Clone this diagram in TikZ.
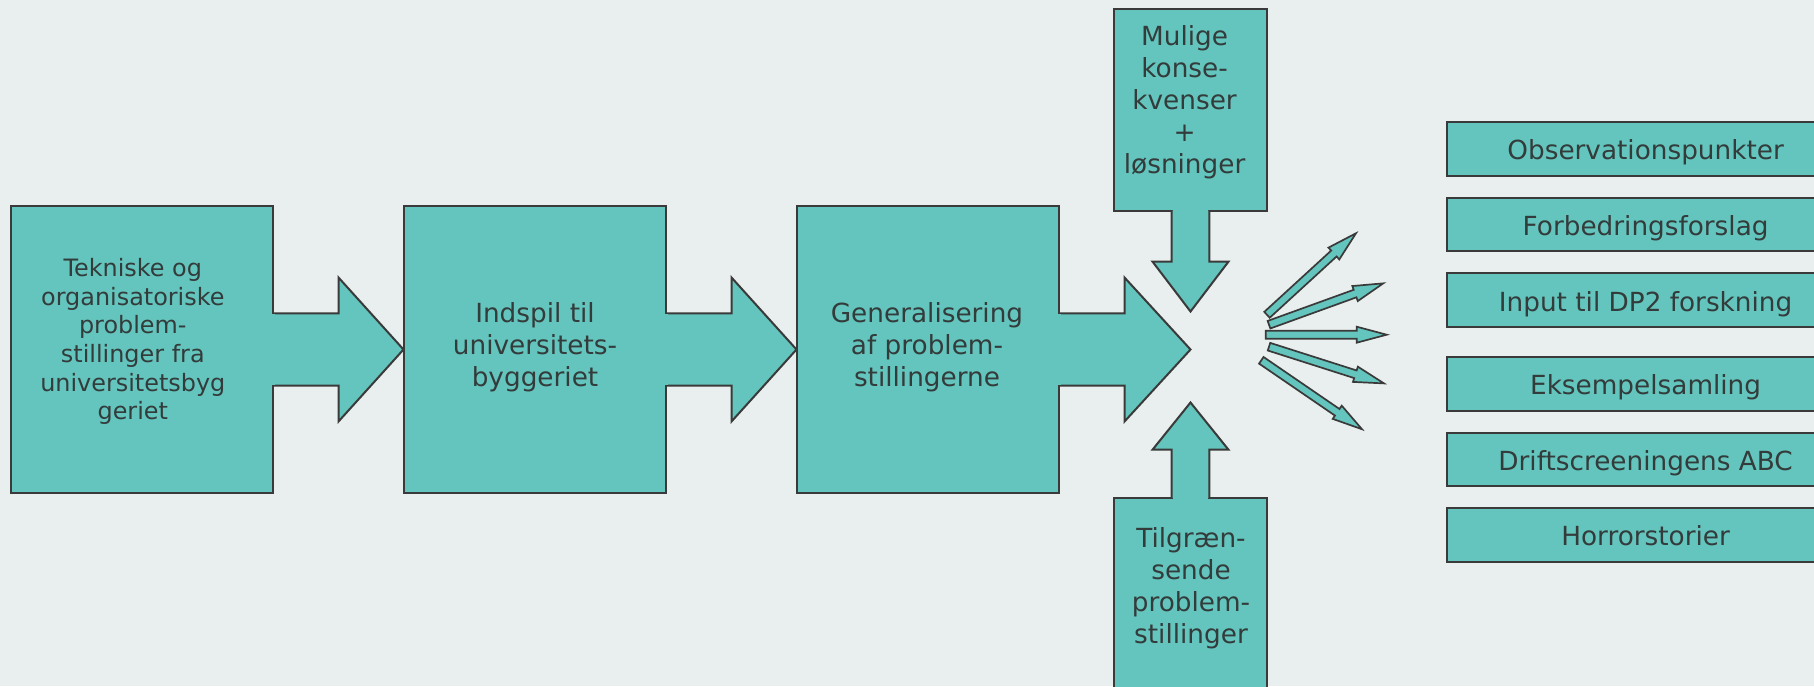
\documentclass[tikz,border=0pt]{standalone}
\usepackage{fontspec}
\setmainfont{DejaVu Sans}
\usetikzlibrary{calc}
\definecolor{bgc}{HTML}{E9EFEE}
\definecolor{tealc}{HTML}{63C5BD}
\definecolor{linec}{HTML}{3A3A3A}
\definecolor{txtc}{HTML}{333B3B}
\begin{document}
\begin{tikzpicture}[x=1pt,y=-1pt,
  shapebox/.style={draw=linec, fill=tealc, line width=2pt, rectangle, inner sep=0pt, outer sep=0pt},
  blk/.style={draw=linec, fill=tealc, line width=2pt, line join=miter},
  cover/.style={fill=tealc},
  bigtxt/.style={text=txtc, align=center, font=\fontsize{26.3}{32}\selectfont, inner sep=0pt},
  smalltxt/.style={text=txtc, align=center, font=\fontsize{23.9}{28.7}\selectfont, inner sep=0pt},
  rbox/.style={shapebox, minimum width=396.7pt, minimum height=53.7pt, text=txtc,
    font=\fontsize{26.3}{32}\selectfont, text height=26.3pt, text depth=4.2pt},
  sarrow/.style={draw=linec, fill=tealc, line width=1.7pt, line join=miter},
]
\useasboundingbox (0,0) rectangle (1814,686);
\clip (0,0) rectangle (1814,686);
\fill[bgc] (0,0) rectangle (1814,686);

% main boxes
\node[shapebox, minimum width=262.5pt, minimum height=287.6pt] (b1) at (141.75,349.5) {};
\node[shapebox, minimum width=262.5pt, minimum height=287.6pt] (b2) at (534.75,349.5) {};
\node[shapebox, minimum width=262.5pt, minimum height=287.6pt] (b3) at (927.75,349.5) {};
\node[shapebox, minimum width=152.4pt, minimum height=202.2pt] (m) at (1190.5,109.8) {};
\node[shapebox, minimum width=152.4pt, minimum height=202.2pt] (tg) at (1190.5,598.9) {};

\coordinate (cv) at (1190.5,349.5);
\coordinate (dtip) at (1190.5,311.5);
\coordinate (utip) at (1190.5,402.5);

% block arrows
\path[blk] ($(b1.east)+(0,-36.2)$) -- ++(65.5,0) -- ++(0,-35.8) -- (b2.west)
  -- ($(b1.east)+(65.5,72)$) -- ++(0,-35.8) -- ($(b1.east)+(0,36.2)$);
\fill[cover] ($(b1.east)+(-1.6,-35.2)$) rectangle ($(b1.east)+(1.6,35.2)$);

\path[blk] ($(b2.east)+(0,-36.2)$) -- ++(65.5,0) -- ++(0,-35.8) -- (b3.west)
  -- ($(b2.east)+(65.5,72)$) -- ++(0,-35.8) -- ($(b2.east)+(0,36.2)$);
\fill[cover] ($(b2.east)+(-1.6,-35.2)$) rectangle ($(b2.east)+(1.6,35.2)$);

\path[blk] ($(b3.east)+(0,-36.2)$) -- ++(65.5,0) -- ++(0,-35.8) -- (cv)
  -- ($(b3.east)+(65.5,72)$) -- ++(0,-35.8) -- ($(b3.east)+(0,36.2)$);
\fill[cover] ($(b3.east)+(-1.6,-35.2)$) rectangle ($(b3.east)+(1.6,35.2)$);

\path[blk] ($(m.south)+(-18.8,0)$) -- ++(0,50.7) -- ++(-19.2,0) -- (dtip)
  -- ($(m.south)+(38,50.7)$) -- ++(-19.2,0) -- ($(m.south)+(18.8,0)$);
\fill[cover] ($(m.south)+(-17.8,-1.6)$) rectangle ($(m.south)+(17.8,1.6)$);

\path[blk] ($(tg.north)+(-18.8,0)$) -- ++(0,-48.1) -- ++(-19.2,0) -- (utip)
  -- ($(tg.north)+(38,-48.1)$) -- ++(-19.2,0) -- ($(tg.north)+(18.8,0)$);
\fill[cover] ($(tg.north)+(-17.8,-1.6)$) rectangle ($(tg.north)+(17.8,1.6)$);

% texts
\node[smalltxt] (t1) at (132.8,341.5) {Tekniske og\\organisatoriske\\problem-\\stillinger fra\\universitetsbyg\\geriet};
\node[bigtxt] (t2) at (535,347) {Indspil til\\universitets-\\byggeriet};
\node[bigtxt] (t3) at (927,347.5) {Generalisering\\af problem-\\stillingerne};
\node[bigtxt] (tm) at (1184.6,102.2) {Mulige\\konse-\\kvenser\\+\\løsninger};
\node[bigtxt] (tt) at (1191,588.6) {Tilgræn-\\sende\\problem-\\stillinger};

% fan of small arrows
\foreach \x/\y/\a/\l in {1267/314.8/42.5/120.7, 1269/324.7/19.9/121.5, 1265.7/334.7/0/121, 1269/346.7/-17.7/120.7, 1261.3/360.3/-34.4/122}
  \path[sarrow, shift={(\x,\y)}, rotate=\a] (0,-4) -- (\l-30,-4) -- (\l-30,-8) -- (\l,0) -- (\l-30,8) -- (\l-30,4) -- (0,4) -- cycle;

% result boxes
\node[rbox] (r1) at (1645.6,148.85) {Observationspunkter};
\node[rbox] (r2) at (1645.6,224.5) {Forbedringsforslag};
\node[rbox] (r3) at (1645.6,300.15) {Input til DP2 forskning};
\node[rbox] (r4) at (1645.6,383.85) {Eksempelsamling};
\node[rbox] (r5) at (1645.6,459.5) {Driftscreeningens ABC};
\node[rbox] (r6) at (1645.6,534.85) {Horrorstorier};
\end{tikzpicture}
\end{document}
